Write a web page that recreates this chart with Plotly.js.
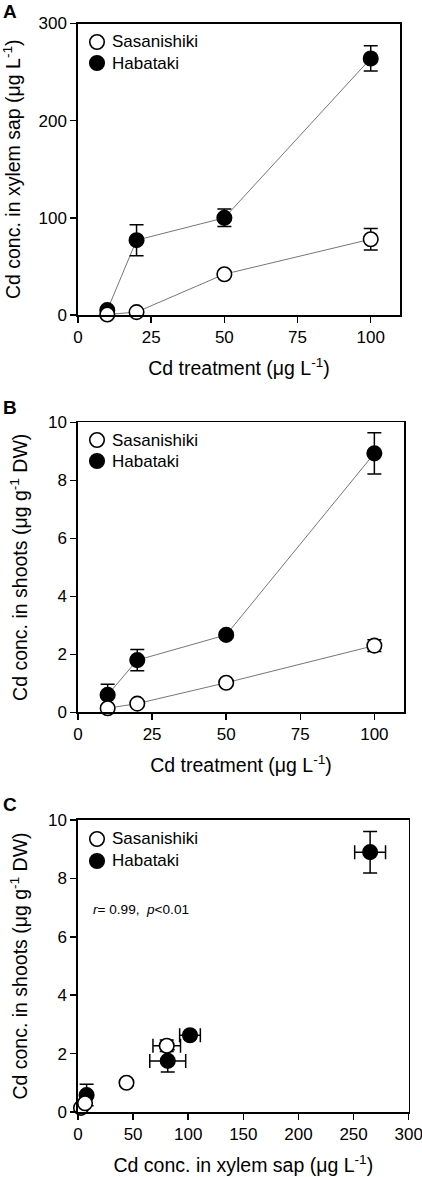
<!DOCTYPE html>
<html>
<head>
<meta charset="utf-8">
<script src="https://cdn.plot.ly/plotly-3.0.1.min.js"></script>
<style>html,body{margin:0;padding:0;background:#fff;}#chart{width:422px;height:1177px;}</style>
</head>
<body>
<div id="chart"></div>
<script>
// ---- Data ----
const treatment = [10, 20, 50, 100];

// Panel A: Cd in xylem sap (µg/L)
const sasaSap = [0.5, 3, 42, 78];
const sasaSapErr = [0.5, 1, 2, 11];
const habaSap = [5, 77, 100, 264];
const habaSapErr = [2, 16, 9, 13];

// Panel B: Cd in shoots (µg/g DW)
const sasaShoot = [0.14, 0.30, 1.02, 2.30];
const sasaShootErr = [0.05, 0.08, 0.1, 0.2];
const habaShoot = [0.60, 1.80, 2.67, 8.93];
const habaShootErr = [0.37, 0.37, 0.12, 0.71];

// Panel C: shoots vs xylem sap
const sasaCx = [2.7, 6.4, 44, 80.5];
const sasaCxErr = [0.5, 1, 2, 12.5];
const sasaCy = [0.14, 0.30, 1.0, 2.27];
const sasaCyErr = [0.05, 0.08, 0.1, 0.2];
const habaCx = [7.8, 81.4, 101.6, 265];
const habaCxErr = [2, 16.3, 9.4, 14];
const habaCy = [0.58, 1.75, 2.63, 8.9];
const habaCyErr = [0.37, 0.38, 0.12, 0.71];

const seriesNames = ['Sasanishiki', 'Habataki'];
const xTitleAB = 'Cd treatment (μg L<sup>-1</sup>)';
const yTitleA = 'Cd conc. in xylem sap (μg L<sup>-1</sup>)';
const yTitleBC = 'Cd conc. in shoots (μg g<sup>-1</sup> DW)';
const xTitleC = 'Cd conc. in xylem sap (μg L<sup>-1</sup>)';
const panelLabels = ['A', 'B', 'C'];
const statText = '<i>r</i>= 0.99,  <i>p</i><0.01';

// ---- Layout helpers ----
const W = 422, H = 1177;
const FONT = 'Liberation Sans, Arial, sans-serif';
const px = v => v / W;
const py = v => 1 - v / H;

const lineStyle = {color: '#666', width: 0.9};
function errObj(arr) {
  return {type: 'data', array: arr, visible: true, color: '#000', thickness: 1.5, width: 7};
}
const openMarker = {symbol: 'circle', size: 14.5, color: '#fff', line: {color: '#000', width: 1.6}};
const fillMarker = {symbol: 'circle', size: 14.5, color: '#000', line: {color: '#000', width: 1.6}};

const traces = [];
// Panel A
traces.push({x: treatment, y: habaSap, mode: 'lines', line: lineStyle, showlegend: false, xaxis: 'x', yaxis: 'y', hoverinfo: 'skip'});
traces.push({x: treatment, y: sasaSap, mode: 'lines', line: lineStyle, showlegend: false, xaxis: 'x', yaxis: 'y', hoverinfo: 'skip'});
traces.push({x: treatment, y: habaSap, error_y: errObj(habaSapErr), mode: 'markers', marker: fillMarker, name: seriesNames[1], showlegend: false, xaxis: 'x', yaxis: 'y', cliponaxis: false});
traces.push({x: treatment, y: sasaSap, error_y: errObj(sasaSapErr), mode: 'markers', marker: openMarker, name: seriesNames[0], showlegend: false, xaxis: 'x', yaxis: 'y', cliponaxis: false});
// Panel B
traces.push({x: treatment, y: habaShoot, mode: 'lines', line: lineStyle, showlegend: false, xaxis: 'x2', yaxis: 'y2', hoverinfo: 'skip'});
traces.push({x: treatment, y: sasaShoot, mode: 'lines', line: lineStyle, showlegend: false, xaxis: 'x2', yaxis: 'y2', hoverinfo: 'skip'});
traces.push({x: treatment, y: habaShoot, error_y: errObj(habaShootErr), mode: 'markers', marker: fillMarker, name: seriesNames[1], showlegend: false, xaxis: 'x2', yaxis: 'y2', cliponaxis: false});
traces.push({x: treatment, y: sasaShoot, error_y: errObj(sasaShootErr), mode: 'markers', marker: openMarker, name: seriesNames[0], showlegend: false, xaxis: 'x2', yaxis: 'y2', cliponaxis: false});
// Panel C
traces.push({x: habaCx, y: habaCy, error_x: errObj(habaCxErr), error_y: errObj(habaCyErr), mode: 'markers', marker: fillMarker, name: seriesNames[1], showlegend: false, xaxis: 'x3', yaxis: 'y3', cliponaxis: false});
traces.push({x: sasaCx, y: sasaCy, error_x: errObj(sasaCxErr), error_y: errObj(sasaCyErr), mode: 'markers', marker: openMarker, name: seriesNames[0], showlegend: false, xaxis: 'x3', yaxis: 'y3', cliponaxis: false});

const tickFont = {family: FONT, size: 17, color: '#000'};
const titleFont = {family: FONT, size: 19.5, color: '#000'};
function axis(domain, range, dtick, title, anchor, standoff) {
  return {
    domain: domain, range: range, dtick: dtick, tick0: 0, anchor: anchor,
    showgrid: false, zeroline: false, showline: true, mirror: true,
    linecolor: '#000', linewidth: 1.7, ticks: 'outside', ticklen: 6,
    tickwidth: 1.5, tickcolor: '#000', tickfont: tickFont,
    ticklabeloverflow: 'allow',
    title: {text: title, font: titleFont, standoff: standoff},
    automargin: false, fixedrange: true
  };
}

const panels = [
  {xl: 78, xr: 400, yt: 23.5, yb: 315},
  {xl: 78, xr: 404, yt: 422.3, yb: 712.3},
  {xl: 78, xr: 408.7, yt: 820, yb: 1112}
];
const dom = panels.map(p => ({x: [px(p.xl), px(p.xr)], y: [py(p.yb), py(p.yt)]}));

// Manual legends (one per panel): marker circle + label text
const legendRows = [[42, 63], [440, 461], [839, 861]];
const legendMarkerX = 97, legendTextX = 110;
const shapes = [];
const annotations = [];
legendRows.forEach(rows => {
  rows.forEach((yy, k) => {
    shapes.push({
      type: 'circle', xref: 'paper', yref: 'paper',
      xsizemode: 'pixel', ysizemode: 'pixel',
      xanchor: px(legendMarkerX), yanchor: py(yy),
      x0: -7.25, x1: 7.25, y0: -7.25, y1: 7.25,
      fillcolor: k === 0 ? '#fff' : '#000',
      line: {color: '#000', width: 1.6}
    });
    annotations.push({
      text: seriesNames[k], xref: 'paper', yref: 'paper',
      x: px(legendTextX), y: py(yy), xanchor: 'left', yanchor: 'middle',
      showarrow: false, font: {family: FONT, size: 17, color: '#000'}
    });
  });
});

const labelY = [11, 408, 804];
panelLabels.forEach((t, i) => annotations.push({
  text: '<b>' + t + '</b>', xref: 'paper', yref: 'paper', x: px(1), y: py(labelY[i]),
  xanchor: 'left', yanchor: 'middle', showarrow: false,
  font: {family: FONT, size: 19, color: '#000'}
}));
annotations.push({
  text: statText, xref: 'paper', yref: 'paper', x: px(91.3), y: py(909.5),
  xanchor: 'left', yanchor: 'middle', showarrow: false,
  font: {family: FONT, size: 13.6, color: '#000'}
});

const layout = {
  width: W, height: H,
  margin: {l: 0, r: 0, t: 0, b: 0},
  paper_bgcolor: '#fff', plot_bgcolor: '#fff',
  showlegend: false,
  font: {family: FONT, color: '#000'},
  xaxis: axis(dom[0].x, [0, 110], 25, xTitleAB, 'y', 15),
  yaxis: axis(dom[0].y, [0, 300.01], 100, yTitleA, 'x', 15),
  xaxis2: axis(dom[1].x, [0, 110], 25, xTitleAB, 'y2', 15),
  yaxis2: axis(dom[1].y, [0, 10.001], 2, yTitleBC, 'x2', 15),
  xaxis3: axis(dom[2].x, [0, 300.01], 50, xTitleC, 'y3', 15),
  yaxis3: axis(dom[2].y, [0, 10.001], 2, yTitleBC, 'x3', 15),
  shapes: shapes,
  annotations: annotations
};

Plotly.newPlot('chart', traces, layout, {displayModeBar: false, staticPlot: true});
</script>
</body>
</html>
